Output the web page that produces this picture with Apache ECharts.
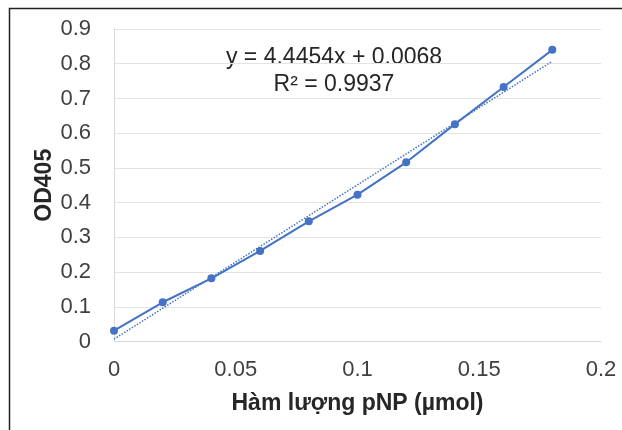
<!DOCTYPE html>
<html>
<head>
<meta charset="utf-8">
<script src="https://cdn.jsdelivr.net/npm/echarts@6/dist/echarts.min.js"></script>
<style>
html,body{margin:0;padding:0;background:#fff;}
#chart{width:622px;height:430px;}
</style>
</head>
<body>
<div id="chart"></div>
<script>
// Data
var xValues = [0, 0.02, 0.04, 0.06, 0.08, 0.10, 0.12, 0.14, 0.16, 0.18];
var odValues = [0.031, 0.113, 0.182, 0.261, 0.346, 0.423, 0.516, 0.626, 0.733, 0.840];
// Linear trendline endpoints (from the printed equation y = 4.4454x + 0.0068)
var trendX = [0, 0.18];
var trendY = [0.0068, 0.8070];
var equationLines = ['y = 4.4454x + 0.0068', 'R² = 0.9937'];
var xAxisTitle = 'Hàm lượng pNP (µmol)';
var yAxisTitle = 'OD405';

var FONT = '"Liberation Sans", Arial, sans-serif';
var BLUE = '#4472C4';

var seriesData = xValues.map(function (x, i) { return [x, odValues[i]]; });
var trendData = trendX.map(function (x, i) { return [x, trendY[i]]; });

var chart = echarts.init(document.getElementById('chart'), null, {renderer: 'canvas'});
chart.setOption({
  backgroundColor: '#ffffff',
  animation: false,
  grid: {left: 114, right: 21, top: 29, bottom: 88.5, containLabel: false},
  xAxis: {
    type: 'value', min: 0, max: 0.2, interval: 0.05,
    name: xAxisTitle, nameLocation: 'middle', nameGap: 51, nameMoveOverlap: false,
    nameTextStyle: {fontFamily: FONT, fontSize: 23, fontWeight: 'bold', color: '#262626'},
    axisLine: {show: true, lineStyle: {color: '#d9d9d9', width: 1}},
    axisTick: {show: false},
    splitLine: {show: false},
    axisLabel: {fontFamily: FONT, fontSize: 22, color: '#404040', margin: 17}
  },
  yAxis: {
    type: 'value', min: 0, max: 0.9, interval: 0.1,
    name: yAxisTitle, nameLocation: 'middle', nameGap: 58, nameRotate: 90, nameMoveOverlap: false,
    nameTextStyle: {fontFamily: FONT, fontSize: 23, fontWeight: 'bold', color: '#262626'},
    axisLine: {show: true, lineStyle: {color: '#d9d9d9', width: 1}},
    axisTick: {show: false},
    splitLine: {show: true, lineStyle: {color: '#e3e3e3', width: 1}},
    axisLabel: {fontFamily: FONT, fontSize: 22, color: '#404040', margin: 23}
  },
  series: [
    {
      type: 'line', data: trendData, symbol: 'none', silent: true, z: 1,
      lineStyle: {color: BLUE, width: 1.5, type: [1.5, 1.5]}
    },
    {
      type: 'line', data: seriesData, symbol: 'circle', symbolSize: 8, z: 2,
      itemStyle: {color: BLUE},
      lineStyle: {color: BLUE, width: 2}
    }
  ],
  graphic: [
    {type: 'rect', shape: {x: 9.5, y: 8.5, width: 800, height: 600}, silent: true,
     style: {fill: 'none', stroke: '#222222', lineWidth: 1.5}, z: 10},
    {type: 'text', x: 334, y: 58, silent: true,
     style: {text: equationLines[0], font: '23px ' + FONT, fill: '#262626', align: 'center', verticalAlign: 'middle'}},
    {type: 'text', x: 334, y: 85, silent: true,
     style: {text: equationLines[1], font: '23px ' + FONT, fill: '#262626', align: 'center', verticalAlign: 'middle'}}
  ]
});
</script>
</body>
</html>
